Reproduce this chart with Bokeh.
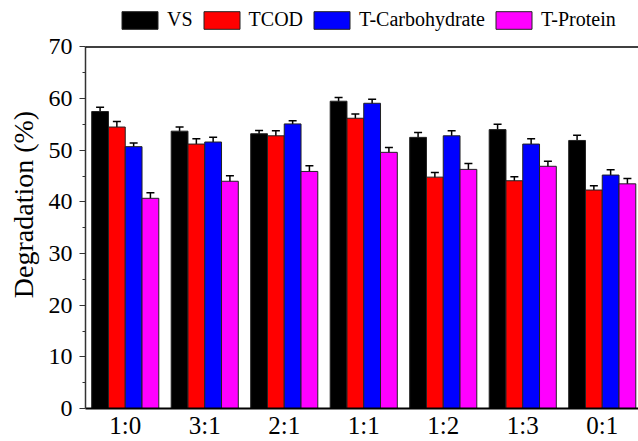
from bokeh.plotting import figure
from bokeh.models import (ColumnDataSource, Range1d, FixedTicker, Legend,
                          LegendItem, Whisker, TeeHead, Span)
from bokeh.transform import dodge
from bokeh.embed import file_html
from bokeh.resources import INLINE

ratios = ["1:0", "3:1", "2:1", "1:1", "1:2", "1:3", "0:1"]
vs = [57.5, 53.7, 53.2, 59.5, 52.5, 54.0, 51.9]
vs_err = [0.83, 0.83, 0.64, 0.70, 0.96, 1.02, 1.02]
tcod = [54.5, 51.2, 52.8, 56.2, 44.8, 44.1, 42.3]
tcod_err = [1.09, 1.02, 0.96, 0.83, 0.90, 0.77, 0.83]
tcarb = [50.7, 51.6, 55.1, 59.1, 52.8, 51.2, 45.2]
tcarb_err = [0.70, 0.90, 0.64, 0.77, 0.96, 1.02, 1.02]
tprot = [40.7, 44.0, 45.9, 49.6, 46.3, 46.9, 43.5]
tprot_err = [1.09, 1.09, 1.09, 0.96, 1.15, 0.96, 1.02]
series_names = ["VS", "TCOD", "T-Carbohydrate", "T-Protein"]
y_ticks = [0, 10, 20, 30, 40, 50, 60, 70]

series_vals = [vs, tcod, tcarb, tprot]
series_errs = [vs_err, tcod_err, tcarb_err, tprot_err]
colors = ["#000000", "#FF0000", "#0000FF", "#FF00FF"]
FONT = "Liberation Serif"
bar_w = 0.211
offsets = [-1.5 * bar_w, -0.5 * bar_w, 0.5 * bar_w, 1.5 * bar_w]
y_axis_max = y_ticks[-1]

p = figure(width=638, height=441, output_backend="svg", toolbar_location=None, title=None,
           x_range=Range1d(-0.5, 6.456), y_range=Range1d(0, 79.0),
           min_border_left=85, min_border_right=0, min_border_top=0, min_border_bottom=30)
p.outline_line_color = None
p.xgrid.visible = False
p.ygrid.visible = False
p.background_fill_color = "white"
p.border_fill_color = "white"

items = []
xs = list(range(len(ratios)))
for name, vals, errs, col, off in zip(series_names, series_vals, series_errs, colors, offsets):
    src = ColumnDataSource(dict(
        x=xs, top=vals,
        upper=[v + e for v, e in zip(vals, errs)],
        lower=[v - e for v, e in zip(vals, errs)],
    ))
    r = p.vbar(x=dodge("x", off, range=p.x_range), top="top", width=bar_w, bottom=0,
               source=src, fill_color=col, line_color="#222222", line_width=1)
    w = Whisker(base=dodge("x", off, range=p.x_range), upper="upper", lower="lower",
                source=src, line_color="black", line_width=1.5,
                upper_head=TeeHead(size=8, line_color="black", line_width=1.5),
                lower_head=TeeHead(size=8, line_color="black", line_width=1.5))
    p.add_layout(w)
    items.append(LegendItem(label=name, renderers=[r]))

# top frame line at the axis maximum
p.add_layout(Span(location=y_axis_max, dimension="width", line_color="black", line_width=1.5))

# x axis
p.xaxis.ticker = FixedTicker(ticks=xs)
p.xaxis.major_label_overrides = {i: r for i, r in zip(xs, ratios)}
p.xaxis.major_tick_line_color = None
p.xaxis.minor_tick_line_color = None
p.xaxis.major_tick_in = 0
p.xaxis.major_tick_out = 0
p.xaxis.minor_tick_in = 0
p.xaxis.minor_tick_out = 0
p.xaxis.axis_line_width = 2
p.xaxis.axis_line_color = "black"
p.xaxis.major_label_standoff = 3
p.xaxis.major_label_text_font = FONT
p.xaxis.major_label_text_font_size = "25px"
p.xaxis.major_label_text_color = "black"

# y axis
p.yaxis.bounds = (0, y_axis_max)
p.yaxis.ticker = FixedTicker(ticks=y_ticks, minor_ticks=[5, 15, 25, 35, 45, 55, 65])
p.yaxis.axis_label = "Degradation (%)"
p.yaxis.axis_label_text_font = FONT
p.yaxis.axis_label_text_font_size = "28px"
p.yaxis.axis_label_text_font_style = "normal"
p.yaxis.axis_label_text_color = "black"
p.yaxis.axis_label_standoff = 7
p.yaxis.major_label_text_font = FONT
p.yaxis.major_label_text_font_size = "24px"
p.yaxis.major_label_text_color = "black"
p.yaxis.major_label_standoff = 7
p.yaxis.major_tick_in = 0
p.yaxis.major_tick_out = 6
p.yaxis.minor_tick_in = 0
p.yaxis.minor_tick_out = 3
p.yaxis.axis_line_color = "#333333"
p.yaxis.axis_line_width = 1.5
p.yaxis.major_tick_line_color = "#333333"
p.yaxis.minor_tick_line_color = "#333333"

legend = Legend(items=items, orientation="horizontal", location=(32, 377),
                glyph_width=45, glyph_height=22, label_height=22, label_standoff=5,
                spacing=6, padding=0, margin=0, border_line_color=None,
                background_fill_alpha=0, label_text_font=FONT,
                label_text_font_size="20px", label_text_color="black")
p.add_layout(legend, "center")

open("out.html", "w").write(file_html(p, INLINE))
